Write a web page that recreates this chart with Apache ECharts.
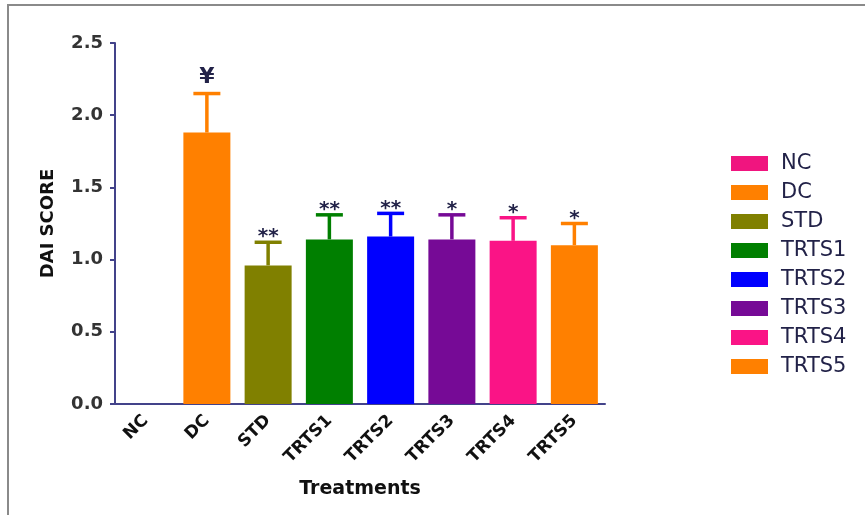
<!DOCTYPE html>
<html>
<head>
<meta charset="utf-8">
<script src="https://cdn.jsdelivr.net/npm/echarts@6/dist/echarts.min.js"></script>
<style>
  html, body { margin: 0; padding: 0; background: #fff; }
  #chart { width: 865px; height: 515px; }
</style>
</head>
<body>
<div id="chart"></div>
<script>
// Disease activity index per treatment group (mean + upper error)
const categories = ['NC', 'DC', 'STD', 'TRTS1', 'TRTS2', 'TRTS3', 'TRTS4', 'TRTS5'];
const means = [0, 1.88, 0.96, 1.14, 1.16, 1.14, 1.13, 1.10];
const errors = [0, 0.27, 0.16, 0.17, 0.16, 0.17, 0.16, 0.15];
const marks = ['', '¥', '**', '**', '**', '*', '*', '*'];
const yTicks = [0, 0.5, 1.0, 1.5, 2.0, 2.5];

const palette = ['#f0157f', '#ff8000', '#808000', '#007f00', '#0000ff', '#760a96', '#fa1486', '#ff8000'];
const axisColor = '#43438a';
const inkColor = '#222248';

const chart = echarts.init(document.getElementById('chart'), null, { renderer: 'canvas' });

// One bar series per group so every group gets its own legend entry
const barSeries = categories.map((name, i) => ({
  type: 'bar',
  name: name,
  stack: 'groups',
  barWidth: 47,
  data: categories.map((_, j) => (j === i ? means[i] : '-')),
  itemStyle: { color: palette[i] },
  emphasis: { disabled: true }
}));

// Upper error whiskers with the significance marks above them
const errorSeries = {
  type: 'custom',
  name: 'error',
  z: 5,
  data: categories.map((_, i) => [i, means[i], errors[i]]),
  encode: { x: 0, y: 1 },
  renderItem: function (params, api) {
    const i = api.value(0);
    const m = api.value(1);
    const e = api.value(2);
    if (!(e > 0)) return null;
    const base = api.coord([i, m]);
    const top = api.coord([i, m + e]);
    const color = palette[i];
    const half = 13.5;
    const mark = marks[i];
    const isYen = mark === '¥';
    return {
      type: 'group',
      children: [
        { type: 'line', shape: { x1: base[0], y1: base[1], x2: top[0], y2: top[1] },
          style: { stroke: color, lineWidth: 3.5 } },
        { type: 'line', shape: { x1: top[0] - half, y1: top[1], x2: top[0] + half, y2: top[1] },
          style: { stroke: color, lineWidth: 3.5 } },
        { type: 'text', x: top[0], y: top[1] - (isYen ? 16 : 5),
          style: { text: mark, fill: inkColor, align: 'center', verticalAlign: 'middle',
                   font: isYen ? 'bold 22px "DejaVu Sans"' : 'bold 20px "DejaVu Sans"' } }
      ]
    };
  }
};

chart.setOption({
  animation: false,
  backgroundColor: '#ffffff',
  grid: { left: 115, right: 260, top: 43, bottom: 111, containLabel: false },
  legend: {
    data: categories,
    orient: 'vertical',
    left: 726,
    top: 148,
    icon: 'rect',
    itemWidth: 37,
    itemHeight: 15,
    itemGap: 8,
    selectedMode: false,
    textStyle: {
      fontFamily: 'DejaVu Sans', fontSize: 21, color: inkColor,
      lineHeight: 20, padding: [0, 0, 0, 8]
    }
  },
  xAxis: {
    type: 'category',
    data: categories,
    name: 'Treatments',
    nameLocation: 'middle',
    nameGap: 76,
    nameTextStyle: { fontFamily: 'DejaVu Sans', fontWeight: 'bold', fontSize: 19, color: '#111' },
    axisLine: { lineStyle: { color: axisColor, width: 2 } },
    axisTick: { alignWithLabel: true, length: 7, lineStyle: { color: axisColor, width: 2 } },
    axisLabel: { interval: 0, rotate: 45, margin: 14, fontFamily: 'DejaVu Sans', fontWeight: 'bold', fontSize: 17, color: '#111' },
    splitLine: { show: false }
  },
  yAxis: {
    type: 'value',
    min: yTicks[0],
    max: yTicks[yTicks.length - 1],
    interval: yTicks[1] - yTicks[0],
    name: 'DAI SCORE',
    nameLocation: 'middle',
    nameGap: 58,
    nameRotate: 90,
    nameTextStyle: { fontFamily: 'DejaVu Sans', fontWeight: 'bold', fontSize: 18, color: '#111' },
    axisLine: { show: true, lineStyle: { color: axisColor, width: 2 } },
    axisTick: { show: true, length: 5, lineStyle: { color: axisColor, width: 2 } },
    axisLabel: { margin: 12, formatter: v => v.toFixed(1), fontFamily: 'DejaVu Sans', fontWeight: 'bold', fontSize: 18, color: '#333' },
    splitLine: { show: false }
  },
  graphic: [
    { type: 'polyline', silent: true,
      shape: { points: [[8, 515], [8, 5], [865, 5]] },
      style: { stroke: '#8a8a8a', lineWidth: 2, fill: null } }
  ],
  series: barSeries.concat([errorSeries])
});
</script>
</body>
</html>
